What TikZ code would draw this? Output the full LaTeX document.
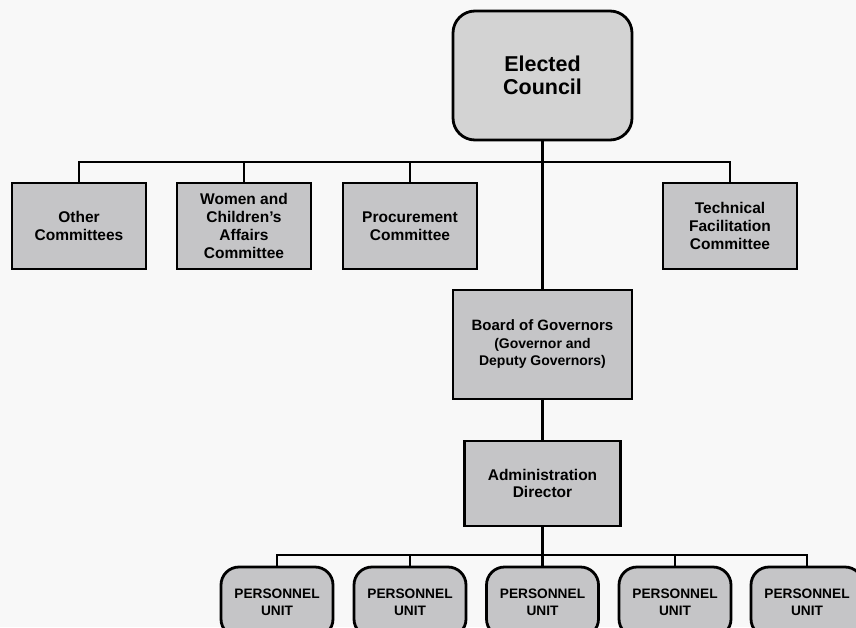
\documentclass[tikz,border=0pt]{standalone}
\usepackage{fontspec}
\setmainfont{Liberation Sans}
\definecolor{paper}{HTML}{F8F8F8}
\definecolor{boxgray}{HTML}{C5C5C7}
\definecolor{topgray}{HTML}{D3D3D3}
\begin{document}
\begin{tikzpicture}[x=1pt,y=-1pt,
  box/.style={draw=black, line width=2.8pt, fill=boxgray, align=center,
    inner sep=0pt, font=\bfseries\fontsize{15.5}{17.8}\selectfont},
  committee/.style={box, minimum width=134pt, minimum height=86pt},
  unitbox/.style={box, rounded corners=18pt, minimum width=112pt,
    minimum height=70pt, font=\bfseries\fontsize{13.7}{17}\selectfont},
  conn/.style={draw=black, line width=2.4pt}]
\useasboundingbox (0,0) rectangle (856,627);
\clip (0,0) rectangle (856,627);
\fill[paper] (0,0) rectangle (856,627);

% top of the hierarchy
\node[box, fill=topgray, rounded corners=22pt, minimum width=179pt,
  minimum height=129pt, font=\bfseries\fontsize{21.5}{23.5}\selectfont]
  (council) at (542.5,75.5) {Elected\\Council};

% committees under the council
\node[committee] (other) at (79,226) {Other\\Committees};
\node[committee] (women) at (244,226) {Women and\\Children's\\Affairs\\Committee};
\node[committee] (proc) at (410,226) {Procurement\\Committee};
\node[committee] (tech) at (730,226) {Technical\\Facilitation\\Committee};

% executive line
\node[box, minimum width=179pt, minimum height=109pt,
  font=\bfseries\fontsize{15}{17.5}\selectfont] (board) at (542.5,344.5)
  {Board of Governors\\{\fontsize{14}{17.5}\selectfont(Governor and}\\
   {\fontsize{14}{17.5}\selectfont Deputy Governors)}};
\node[box, minimum width=156pt, minimum height=85pt] (admin) at (542.5,483.5)
  {Administration\\Director};

% personnel units
\foreach \i/\x in {1/277,2/410,3/542.5,4/675,5/807}
  \node[unitbox] (unit\i) at (\x,602) {PERSONNEL\\UNIT};

% junction levels of the two buses
\coordinate (busA) at (542.5,162);
\coordinate (busB) at (542.5,555);

% connectors
\draw[conn] (council.south) -- (board.north);
\draw[conn] (other.north) -- (other.north |- busA) -- (tech.north |- busA) -- (tech.north);
\draw[conn] (women.north) -- (women.north |- busA);
\draw[conn] (proc.north) -- (proc.north |- busA);
\draw[conn] (board.south) -- (admin.north);
\draw[conn] (admin.south) -- (busB);
\draw[conn] (unit1.north) -- (unit1.north |- busB) -- (unit5.north |- busB) -- (unit5.north);
\foreach \i in {2,3,4}
  \draw[conn] (unit\i.north) -- (unit\i.north |- busB);
\end{tikzpicture}
\end{document}
